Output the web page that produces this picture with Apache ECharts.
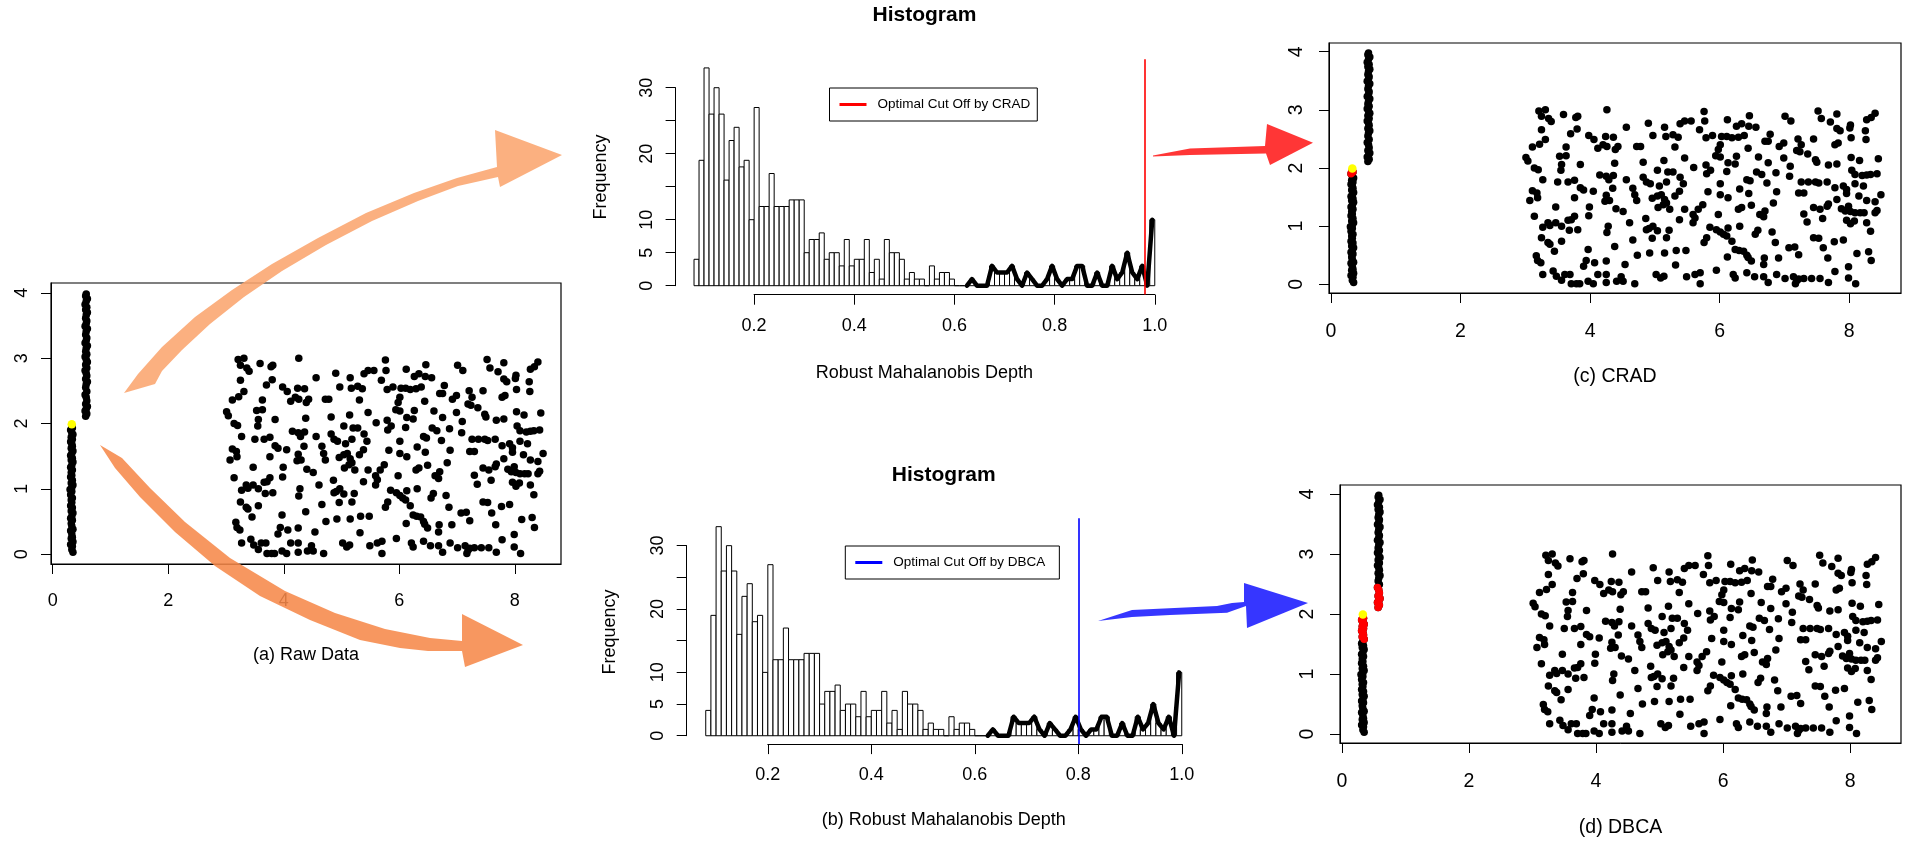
<!DOCTYPE html>
<html>
<head>
<meta charset="utf-8">
<title>Robust Mahalanobis Depth - CRAD vs DBCA</title>
<script src="https://cdn.jsdelivr.net/npm/echarts@6.0.0/dist/echarts.min.js"></script>
<style>
    html, body { margin: 0; padding: 0; background: #fff; }
    #my-figure { width: 1907px; height: 842px; }
</style>
</head>
<body>
<div id="my-figure"></div>
<script>
// ---------- data ----------
// big uniform block of points (x 3..8.5, y 0..3)
var cloud = [
    [3.21,2.98],[3.31,3.00],[3.25,2.89],[3.36,2.85],[3.40,2.80],[3.59,2.92],[3.78,2.87],[3.81,2.89],[4.26,3.00],[4.56,2.70],
    [4.90,2.77],[4.97,2.56],[5.15,2.70],[5.17,2.54],[5.28,2.57],[5.36,2.53],[5.39,2.76],[5.46,2.81],[5.56,2.81],[5.76,2.97],
    [5.77,2.81],[5.69,2.66],[5.79,2.52],[5.89,2.56],[3.25,2.66],[3.80,2.67],[3.70,2.59],[3.98,2.56],[4.06,2.49],[4.12,2.34],
    [4.24,2.54],[4.36,2.53],[4.20,2.40],[4.26,2.37],[4.43,2.37],[4.39,2.32],[3.31,2.49],[3.22,2.41],[3.11,2.36],[3.63,2.36],
    [4.72,2.37],[4.78,2.37],[5.31,2.36],[3.01,2.18],[3.04,2.12],[3.53,2.20],[3.63,2.21],[3.56,2.06],[3.85,2.06],[4.38,2.08],
    [4.82,2.10],[5.14,2.13],[5.46,2.17],[5.79,2.05],[3.14,2.00],[3.20,1.97],[3.55,1.96],[4.15,1.88],[4.25,1.86],[4.29,1.80],
    [4.36,1.87],[4.56,1.80],[4.82,1.84],[4.87,1.76],[4.93,1.73],[5.04,1.96],[5.20,1.93],[5.28,1.93],[5.39,1.84],[5.18,1.76],
    [5.60,2.01],[5.80,1.90],[5.86,1.96],[3.27,1.80],[3.50,1.76],[3.66,1.76],[3.76,1.79],[3.85,1.66],[3.90,1.62],[4.05,1.60],
    [4.35,1.65],[4.66,1.65],[4.69,1.54],[4.72,1.44],[5.07,1.69],[5.10,1.54],[5.31,1.52],[5.38,1.60],[5.44,1.73],[5.82,1.59],
    [3.11,1.61],[3.18,1.57],[3.07,1.44],[3.19,1.49],[3.76,1.49],[4.25,1.53],[4.23,1.43],[4.30,1.44],[4.96,1.48],[5.04,1.52],
    [5.15,1.46],[5.13,1.37],[5.23,1.29],[5.18,1.40],[5.46,1.29],[5.59,1.20],[5.67,1.29],[5.74,1.37],[3.47,1.33],[3.99,1.33],
    [3.98,1.18],[4.40,1.30],[4.51,1.25],[3.14,1.17],[3.76,1.17],[3.71,1.11],[3.66,1.10],[4.61,1.06],[4.86,1.13],[5.05,1.32],
    [5.38,1.11],[5.59,1.06],[5.62,1.14],[3.27,0.98],[3.35,1.06],[3.38,1.01],[3.47,1.06],[3.56,1.00],[3.68,0.93],[3.81,0.94],
    [4.28,1.00],[4.26,0.89],[4.87,0.94],[4.91,0.96],[4.97,1.00],[5.04,0.92],[4.96,0.79],[5.18,0.80],[5.22,0.93],[5.85,0.98],
    [3.25,0.80],[3.35,0.72],[3.38,0.69],[3.56,0.74],[4.66,0.76],[4.38,0.65],[3.97,0.60],[3.45,0.57],[4.92,0.54],[5.15,0.54],
    [5.33,0.58],[5.48,0.58],[5.76,0.72],[5.80,0.80],[3.17,0.49],[3.19,0.41],[3.24,0.37],[3.94,0.41],[4.07,0.37],[4.25,0.40],
    [4.54,0.34],[4.73,0.50],[5.32,0.33],[3.27,0.17],[3.43,0.23],[3.48,0.14],[3.56,0.07],[3.61,0.17],[3.69,0.17],[3.90,0.31],
    [4.12,0.17],[4.25,0.17],[4.48,0.13],[4.51,0.05],[5.02,0.17],[5.09,0.11],[5.14,0.14],[5.49,0.13],[5.62,0.17],[5.70,0.20],
    [3.71,0.01],[3.79,0.01],[3.84,0.01],[3.97,0.05],[4.05,0.01],[4.25,0.03],[4.41,0.05],[4.69,0.01],[5.70,0.01],
    [6.12,2.83],[6.26,2.72],[6.34,2.76],[6.46,2.90],[6.45,2.72],[6.56,2.70],[6.38,2.56],[6.29,2.53],[6.03,2.54],[6.11,2.54],
    [6.19,2.52],[6.01,2.40],[5.98,2.32],[5.94,2.21],[6.01,2.19],[6.44,2.34],[6.70,2.46],[6.78,2.58],[6.75,2.46],[6.92,2.37],
    [6.99,2.43],[7.01,2.89],[7.10,2.81],[7.21,2.50],[7.26,2.40],[7.19,2.30],[7.24,2.28],[7.36,2.24],[7.45,2.50],[7.52,2.98],
    [7.57,2.85],[7.71,2.79],[7.81,2.93],[7.81,2.68],[7.86,2.64],[8.02,2.74],[8.01,2.69],[7.83,2.43],[7.78,2.40],[8.03,2.52],
    [8.25,2.64],[8.27,2.83],[8.34,2.87],[8.40,2.94],[8.26,2.49],[7.48,2.14],[7.50,2.10],[7.68,2.05],[7.81,2.07],[8.03,2.18],
    [8.16,2.13],[8.45,2.16],[6.13,2.09],[6.11,1.94],[6.26,2.20],[6.24,2.07],[6.60,2.19],[6.75,2.09],[6.57,1.93],[6.65,1.89],
    [6.87,1.92],[6.99,2.17],[7.09,2.03],[7.08,1.86],[7.26,1.76],[7.30,1.57],[7.22,1.57],[7.37,1.76],[7.48,1.76],[7.53,1.74],
    [7.66,1.76],[7.78,1.66],[7.91,1.69],[7.96,1.63],[7.96,1.56],[8.04,1.96],[8.09,1.89],[8.20,1.87],[8.27,1.88],[8.33,1.89],
    [8.43,1.90],[8.09,1.73],[8.22,1.69],[8.49,1.54],[8.15,1.52],[8.27,1.44],[8.40,1.42],[6.01,1.73],[6.13,1.49],[6.01,1.54],
    [6.31,1.64],[6.45,1.56],[6.42,1.80],[6.47,1.78],[6.73,1.74],[6.88,1.59],[6.83,1.40],[6.49,1.36],[6.34,1.32],[6.29,1.29],
    [6.62,1.20],[6.70,1.26],[6.68,1.16],[7.30,1.21],[7.35,1.07],[7.45,1.32],[7.55,1.29],[7.59,1.13],[7.66,1.34],[7.68,1.38],
    [7.81,1.46],[7.88,1.30],[7.94,1.26],[8.02,1.25],[8.09,1.23],[8.17,1.23],[8.23,1.23],[8.40,1.23],[8.43,1.27],[7.96,1.10],
    [8.02,1.04],[8.08,1.09],[8.27,1.06],[8.33,0.91],[7.99,1.34],[5.98,1.20],[5.95,0.94],[6.01,0.90],[6.06,0.86],[6.11,0.83],
    [6.13,0.97],[6.19,0.74],[6.31,1.00],[6.55,0.86],[6.59,0.93],[6.81,0.90],[6.86,0.72],[7.45,0.80],[7.53,0.79],[7.60,0.63],
    [7.77,0.73],[7.91,0.76],[7.07,0.63],[7.16,0.64],[7.22,0.51],[6.91,0.45],[6.69,0.45],[6.68,0.34],[6.37,0.57],[6.42,0.50],
    [6.44,0.46],[6.49,0.40],[6.24,0.60],[6.30,0.58],[6.12,0.47],[8.12,0.53],[8.30,0.56],[8.34,0.41],[7.67,0.45],[5.95,0.24],
    [6.21,0.17],[6.24,0.11],[6.42,0.20],[6.54,0.13],[6.68,0.13],[6.75,0.03],[6.88,0.17],[7.01,0.10],[7.14,0.13],[7.19,0.06],
    [7.17,0.01],[7.22,0.09],[7.30,0.10],[7.42,0.10],[7.55,0.10],[7.68,0.03],[7.78,0.22],[7.99,0.30],[7.99,0.11],[8.10,0.01]
];
// thin vertical strip, lower (x ~ 0.33, y 0..2)
var lineA = [
    [0.35,0.03],[0.33,0.07],[0.34,0.12],[0.31,0.15],[0.35,0.19],[0.32,0.24],[0.34,0.26],[0.33,0.31],[0.31,0.36],[0.35,0.38],
    [0.33,0.43],[0.32,0.47],[0.34,0.52],[0.31,0.55],[0.33,0.58],[0.35,0.63],[0.32,0.66],[0.34,0.71],[0.31,0.74],[0.33,0.79],
    [0.32,0.83],[0.34,0.86],[0.31,0.91],[0.33,0.96],[0.30,0.99],[0.33,1.02],[0.35,1.06],[0.32,1.09],[0.34,1.13],[0.31,1.18],
    [0.33,1.21],[0.32,1.25],[0.34,1.29],[0.31,1.33],[0.33,1.36],[0.35,1.41],[0.32,1.44],[0.34,1.47],[0.31,1.51],[0.33,1.54],
    [0.35,1.58],[0.32,1.62],[0.34,1.65],[0.33,1.69],[0.31,1.72],[0.34,1.76],[0.32,1.79],[0.35,1.83],[0.33,1.86],[0.31,1.90],
    [0.34,1.93],[0.33,1.96]
];
// thin vertical strip, upper (x ~ 0.58, y 2.1..4)
var lineB = [
    [0.57,2.11],[0.59,2.15],[0.56,2.19],[0.58,2.22],[0.60,2.26],[0.57,2.30],[0.59,2.35],[0.58,2.40],[0.56,2.44],[0.59,2.49],
    [0.57,2.55],[0.58,2.60],[0.60,2.64],[0.57,2.68],[0.59,2.73],[0.58,2.77],[0.56,2.81],[0.59,2.85],[0.57,2.90],[0.60,2.94],
    [0.58,2.98],[0.56,3.02],[0.59,3.06],[0.57,3.10],[0.58,3.15],[0.60,3.19],[0.56,3.23],[0.58,3.27],[0.59,3.31],[0.57,3.36],
    [0.58,3.41],[0.60,3.45],[0.56,3.49],[0.58,3.53],[0.59,3.57],[0.57,3.61],[0.58,3.66],[0.60,3.70],[0.57,3.74],[0.59,3.78],
    [0.56,3.82],[0.58,3.87],[0.60,3.91],[0.57,3.95],[0.58,3.98]
];
var seedPoint = [[0.33, 1.99]];

// flagged points: CRAD flags the top of the lower strip, DBCA more of both strips
var cradFlagMinY = 1.88;
var dbcaFlagMinY = 1.55;
var dbcaFlagMaxY = 2.45;

// histogram of robust mahalanobis depth, breaks 0.08 .. 1.00 by 0.01
var binStart = 0.08;
var binWidth = 0.01;
var depthCounts = [
    4, 19, 33, 26, 30, 26, 16, 22, 24, 18, 19, 10,
    27, 12, 12, 17, 12, 12, 12, 13, 13, 13,
    5, 7, 7, 8, 4, 5, 5, 3, 7, 3,
    4, 4, 7, 2, 4, 1, 7, 5, 5, 4,
    1, 2, 1, 1, 0, 3, 1, 2, 2, 1,
    0, 0,
    0, 1, 0, 0, 0, 3, 2, 2, 2, 3, 1, 0, 2, 1, 0, 0, 1, 3, 1, 0, 1, 1,
    3, 3, 0, 0, 2, 0, 0, 3, 1, 2, 5, 2, 1, 3, 0, 10
];
var outlineFrom = 0.62;   // thick outline drawn over the right tail
var cutCRAD = 0.985;
var cutDBCA = 0.8;

var scatterXTicks = [0, 2, 4, 6, 8];
var scatterYTicks = [0, 1, 2, 3, 4];
var histXTicks = [0.2, 0.4, 0.6, 0.8, 1.0];
var histYTicks = [0, 5, 10, 15, 20, 25, 30];
var histYLabels = [0, 5, 10, 20, 30];

// ---------- chart ----------
var FONT = '"Liberation Sans", Arial, Helvetica, sans-serif';
var figure = echarts.init(document.getElementById('my-figure'));

var allPoints = cloud.concat(lineA, lineB);
var cradRed = lineA.filter(function (p) { return p[1] >= cradFlagMinY; });
var dbcaRed = lineA.filter(function (p) { return p[1] >= dbcaFlagMinY; })
    .concat(lineB.filter(function (p) { return p[1] <= dbcaFlagMaxY; }));

var histData = depthCounts.map(function (c, i) {
    var x0 = +(binStart + i * binWidth).toFixed(2);
    return [x0, +(x0 + binWidth).toFixed(2), c];
});
var tailLine = histData.filter(function (d) { return d[0] >= outlineFrom - 1e-9; })
    .map(function (d) { return [(d[0] + d[1]) / 2, d[2]]; });

var axisLineStyle = { show: true, onZero: false, lineStyle: { color: '#000', width: 1 } };

function boxX(gi, fs, margin) {
    return {
        gridIndex: gi, type: 'value', min: -0.03, max: 8.8,
        axisLine: axisLineStyle,
        axisTick: { show: true, length: 10, customValues: scatterXTicks, lineStyle: { color: '#000', width: 1 } },
        axisLabel: { show: true, customValues: scatterXTicks, margin: margin, color: '#000', fontSize: fs, fontFamily: FONT },
        splitLine: { show: false }
    };
}
function boxY(gi, fs, margin) {
    return {
        gridIndex: gi, type: 'value', min: -0.15, max: 4.15,
        axisLine: axisLineStyle,
        axisTick: { show: true, length: 10, customValues: scatterYTicks, lineStyle: { color: '#000', width: 1 } },
        axisLabel: { show: true, customValues: scatterYTicks, rotate: 90, margin: margin, color: '#000', fontSize: fs, fontFamily: FONT },
        splitLine: { show: false }
    };
}
function hidden(gi, min, max) {
    return { gridIndex: gi, type: 'value', min: min, max: max, show: false };
}
function histXAxis(gi) {
    return {
        gridIndex: gi, type: 'value', min: 0.2, max: 1.0,
        axisLine: axisLineStyle,
        axisTick: { show: true, length: 10, customValues: histXTicks, lineStyle: { color: '#000', width: 1 } },
        axisLabel: {
            show: true, customValues: histXTicks, margin: 22, color: '#000', fontSize: 18, fontFamily: FONT,
            formatter: function (v) { return v.toFixed(1); }
        },
        splitLine: { show: false }
    };
}
function histYAxis(gi) {
    return {
        gridIndex: gi, type: 'value', min: 0, max: 30,
        axisLine: axisLineStyle,
        axisTick: { show: true, length: 10, customValues: histYTicks, lineStyle: { color: '#000', width: 1 } },
        axisLabel: { show: true, customValues: histYLabels, rotate: 90, margin: 20, color: '#000', fontSize: 18, fontFamily: FONT },
        splitLine: { show: false }
    };
}

function scatterSeries(ai, pts, color, size, z) {
    return {
        type: 'scatter', xAxisIndex: ai, yAxisIndex: ai, data: pts, symbol: 'circle', symbolSize: size,
        itemStyle: { color: color, opacity: 1 }, silent: true, z: z
    };
}
function barsSeries(ai) {
    return {
        type: 'custom', xAxisIndex: ai, yAxisIndex: ai, data: histData, silent: true, z: 2,
        renderItem: function (params, api) {
            var p0 = api.coord([api.value(0), api.value(2)]);
            var p1 = api.coord([api.value(1), 0]);
            return {
                type: 'rect',
                shape: { x: p0[0], y: p0[1], width: p1[0] - p0[0], height: p1[1] - p0[1] },
                style: { fill: '#fff', stroke: '#000', lineWidth: 1 }
            };
        }
    };
}
function tailSeries(ai) {
    return {
        type: 'line', xAxisIndex: ai, yAxisIndex: ai, data: tailLine, symbol: 'none', silent: true, z: 3,
        lineStyle: { color: '#000', width: 4.5, join: 'round', cap: 'round' }
    };
}
function cutSeries(ai, name, value, color) {
    return {
        name: name, type: 'line', xAxisIndex: ai, yAxisIndex: ai, data: [], z: 4,
        itemStyle: { color: color }, lineStyle: { color: color },
        markLine: {
            silent: true, symbol: 'none', label: { show: false },
            lineStyle: { color: color, width: 1.6, type: 'solid' },
            data: [{ xAxis: value }]
        }
    };
}
function legendBox(name, left, top, padRight) {
    return {
        data: [name], left: left, top: top, icon: 'rect', itemWidth: 27, itemHeight: 3,
        padding: [9, padRight, 9, 10], borderColor: '#000', borderWidth: 1, borderRadius: 0,
        selectedMode: false, backgroundColor: '#fff',
        textStyle: { fontSize: 13.5, fontFamily: FONT, color: '#000', padding: [0, 0, 0, 6], lineHeight: 15 }
    };
}
function label(text, x, y, size, bold, rot) {
    return {
        type: 'text', x: x, y: y, rotation: rot ? Math.PI / 2 : 0, z: 50, silent: true,
        style: {
            text: text, fill: '#000', font: (bold ? 'bold ' : '') + size + 'px ' + FONT,
            textAlign: 'center', textVerticalAlign: 'middle', align: 'center', verticalAlign: 'middle'
        }
    };
}
function arrow(points, color) {
    return { type: 'polygon', z: 60, silent: true, shape: { points: points }, style: { fill: color, opacity: 0.88 } };
}

var option = {
    animation: false,
    backgroundColor: '#fff',
    grid: [
        { left: 51, top: 283, width: 510, height: 281, show: true, borderColor: '#000', borderWidth: 1.2, backgroundColor: 'transparent' },   // (a)
        { left: 1329, top: 43, width: 572, height: 250, show: true, borderColor: '#000', borderWidth: 1.2, backgroundColor: 'transparent' },  // (c)
        { left: 1340, top: 485, width: 561, height: 258, show: true, borderColor: '#000', borderWidth: 1.2, backgroundColor: 'transparent' }, // (d)
        { left: 675.6, top: 59.2, width: 497.6, height: 235.2 },   // hist 1 plot region
        { left: 754.1, top: 284.7, width: 400.7, height: 10 },    // hist 1 x axis
        { left: 675.6, top: 87.7, width: 20, height: 198 },       // hist 1 y axis
        { left: 686.7, top: 518.3, width: 514.1, height: 225.8 },  // hist 2 plot region
        { left: 767.8, top: 734.1, width: 414, height: 10 },      // hist 2 x axis
        { left: 686.7, top: 545.6, width: 20, height: 190.1 }     // hist 2 y axis
    ],
    xAxis: [
        boxX(0, 18, 28), boxX(1, 19.5, 29), boxX(2, 19.5, 29),
        hidden(3, 0.0432, 1.0368), histXAxis(4), hidden(5, 0, 1),
        hidden(6, 0.0432, 1.0368), histXAxis(7), hidden(8, 0, 1)
    ],
    yAxis: [
        boxY(0, 18, 20), boxY(1, 19.5, 22), boxY(2, 19.5, 22),
        hidden(3, -1.32, 34.32), hidden(4, 0, 1), histYAxis(5),
        hidden(6, -1.32, 34.32), hidden(7, 0, 1), histYAxis(8)
    ],
    legend: [
        legendBox('Optimal Cut Off by CRAD', 829.5, 88, 7),
        legendBox('Optimal Cut Off by DBCA', 845.3, 546, 14)
    ],
    series: [
        // (a) raw data
        scatterSeries(0, allPoints, '#000', 7.5, 2),
        scatterSeries(0, seedPoint, '#ffff00', 8.5, 4),
        // (c) CRAD
        scatterSeries(1, allPoints, '#000', 7.5, 2),
        scatterSeries(1, cradRed, '#ff0000', 7.5, 3),
        scatterSeries(1, seedPoint, '#ffff00', 8.5, 4),
        // (d) DBCA
        scatterSeries(2, allPoints, '#000', 7.5, 2),
        scatterSeries(2, dbcaRed, '#ff0000', 7.5, 3),
        scatterSeries(2, seedPoint, '#ffff00', 8.5, 4),
        // histograms
        barsSeries(3), tailSeries(3), cutSeries(3, 'Optimal Cut Off by CRAD', cutCRAD, '#ff0000'),
        barsSeries(6), tailSeries(6), cutSeries(6, 'Optimal Cut Off by DBCA', cutDBCA, '#0000ff')
    ],
    graphic: [
        label('Histogram', 924.4, 15, 21, true),
        label('Robust Mahalanobis Depth', 924.4, 373, 18),
        label('Frequency', 601, 177, 18, false, true),
        label('Histogram', 943.8, 475, 21, true),
        label('(b) Robust Mahalanobis Depth', 943.8, 820, 18),
        label('Frequency', 610, 632, 18, false, true),
        label('(a) Raw Data', 306, 655, 18),
        label('(c) CRAD', 1615, 377, 19.5),
        label('(d) DBCA', 1620.5, 828, 19.5),
        // arrows
        arrow([[124, 393], [138, 374], [162, 347], [195, 317], [232, 290], [272, 264], [318, 238], [366, 213], [414, 193],
            [457, 178], [497, 167], [495, 130], [562, 155], [500, 187], [498, 177], [458, 186], [418, 201], [372, 221],
            [326, 245], [282, 271], [244, 297], [210, 324], [182, 350], [162, 371], [155, 384]], '#fba56e'),
        arrow([[100, 445], [122, 458], [150, 488], [185, 522], [230, 558], [285, 591], [335, 613], [385, 629], [430, 638],
            [462, 641], [462, 614], [523, 645], [465, 667], [462, 651], [428, 651], [400, 648], [360, 640], [310, 620],
            [260, 596], [215, 566], [175, 532], [140, 497], [115, 468]], '#f6894a'),
        arrow([[1153, 155.5], [1190, 148.5], [1265, 146], [1267, 124], [1313, 142.7], [1270, 165], [1266, 153.5],
            [1190, 155], [1153, 156.5]], '#ff1a1a'),
        arrow([[1098, 621], [1132, 610], [1217, 606], [1232, 603], [1244, 602], [1244, 583], [1308, 603], [1247, 628],
            [1246, 606], [1227, 612.7], [1170, 615], [1132, 617]], '#1a1aff')
    ]
};
figure.setOption(option);
</script>
</body>
</html>
